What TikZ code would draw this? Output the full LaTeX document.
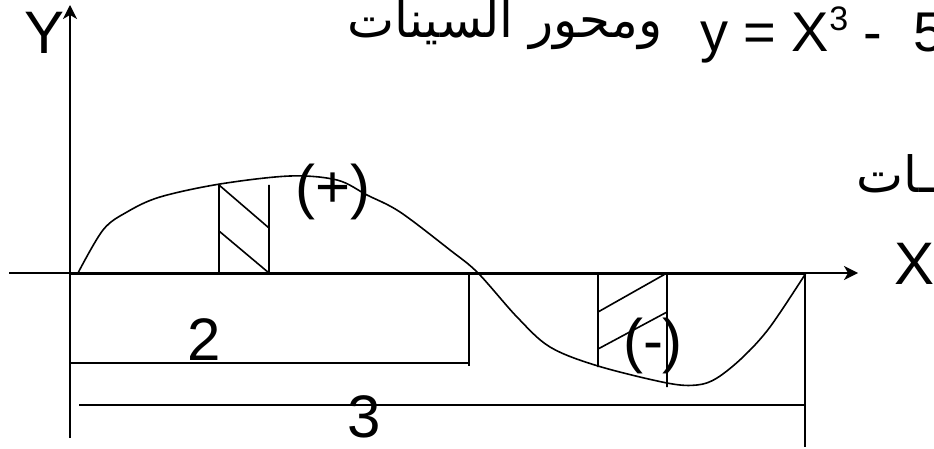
\documentclass[tikz,border=0pt]{standalone}
\usepackage{fontspec}
\setmainfont{Liberation Sans}
\newfontfamily\arabicfont[Script=Arabic]{DejaVu Sans}
\TeXXeTstate=1
\usetikzlibrary{arrows.meta}

\begin{document}
\begin{tikzpicture}[x=1pt, y=-1pt,
    axis/.style={line width=1.6pt},
    thickaxis/.style={line width=3pt},
    curve/.style={line width=1.6pt},
    dimline/.style={line width=1.6pt},
    tip/.style={-{Stealth[length=14pt, width=14pt, inset=4pt]}},
    big/.style={font=\fontsize{60}{72}\selectfont, inner sep=0pt},
    mid/.style={font=\fontsize{56}{66}\selectfont, inner sep=0pt},
    arab/.style={font=\fontsize{50}{60}\selectfont\arabicfont, inner sep=0pt}]
\useasboundingbox (0,0) rectangle (934,449);
\clip (0,0) rectangle (934,449);

% axes
\coordinate (O) at (70,273);
\coordinate (ybot) at (70,438);
\coordinate (ytop) at (70,5);
\coordinate (xleft) at (9,273);
\coordinate (xright) at (858,273);
\coordinate (xend) at (806,273);
\draw[axis, tip] (ybot) -- (ytop);
\draw[axis, tip] (xleft) -- (xright);
\draw[thickaxis] (O) -- (xend);
\node[big, anchor=center] (ylbl) at (45,33) {Y};
\node[big, anchor=center] (xlbl) at (914,264) {X};

% the curve
\draw[curve] plot[smooth, tension=0.55] coordinates {
    (78,273) (103,230) (127,212) (160,197) (220,184) (290,176)
    (337,180) (367,195) (400,212) (450,250) (478,273) (517,317)
    (550,347) (598,366) (667,383) (697,385) (717,378) (743,357)
    (770,327) (806,273)};

% hatched strips
\draw[curve] (219,273) -- (219,185) (269,273) -- (269,185)
    (219,185) -- (269,228) (219,231) -- (269,273);
\draw[curve] (598,273) -- (598,367) (667,273) -- (667,387)
    (598,312) -- (667,273) (598,349) -- (667,312);
\node[big] (plus) at (333,192) {(+)};
\node[big] (minus) at (653,346) {(-)};

% lengths
\coordinate (d2a) at (70,363);
\coordinate (d2b) at (469,363);
\coordinate (d2c) at (469,275);
\coordinate (d3a) at (79,405);
\coordinate (d3b) at (805,405);
\coordinate (d3c) at (805,447);
\draw[dimline] (d2a) -- (d2b);
\draw[dimline] (d2c) -- ([yshift=-3pt]d2b);
\draw[dimline] (d3a) -- (d3b);
\draw[dimline] (xend -| d3b) -- (d3c);
\node[big] (two) at (204,340) {2};
\node[big] (three) at (364,417) {3};

% texts
\node[arab, anchor=base east] (title) at (663,38) {\beginR ومحور السينات\endR};
\node[mid, anchor=base west] (eqn) at (700,52)
    {y = X\raisebox{0.38em}{\fontsize{34}{40}\selectfont 3} -\ \ 5};
\node[arab, anchor=base east] (sub) at (934,193) {\beginR ـات\endR};
\end{tikzpicture}
\end{document}
